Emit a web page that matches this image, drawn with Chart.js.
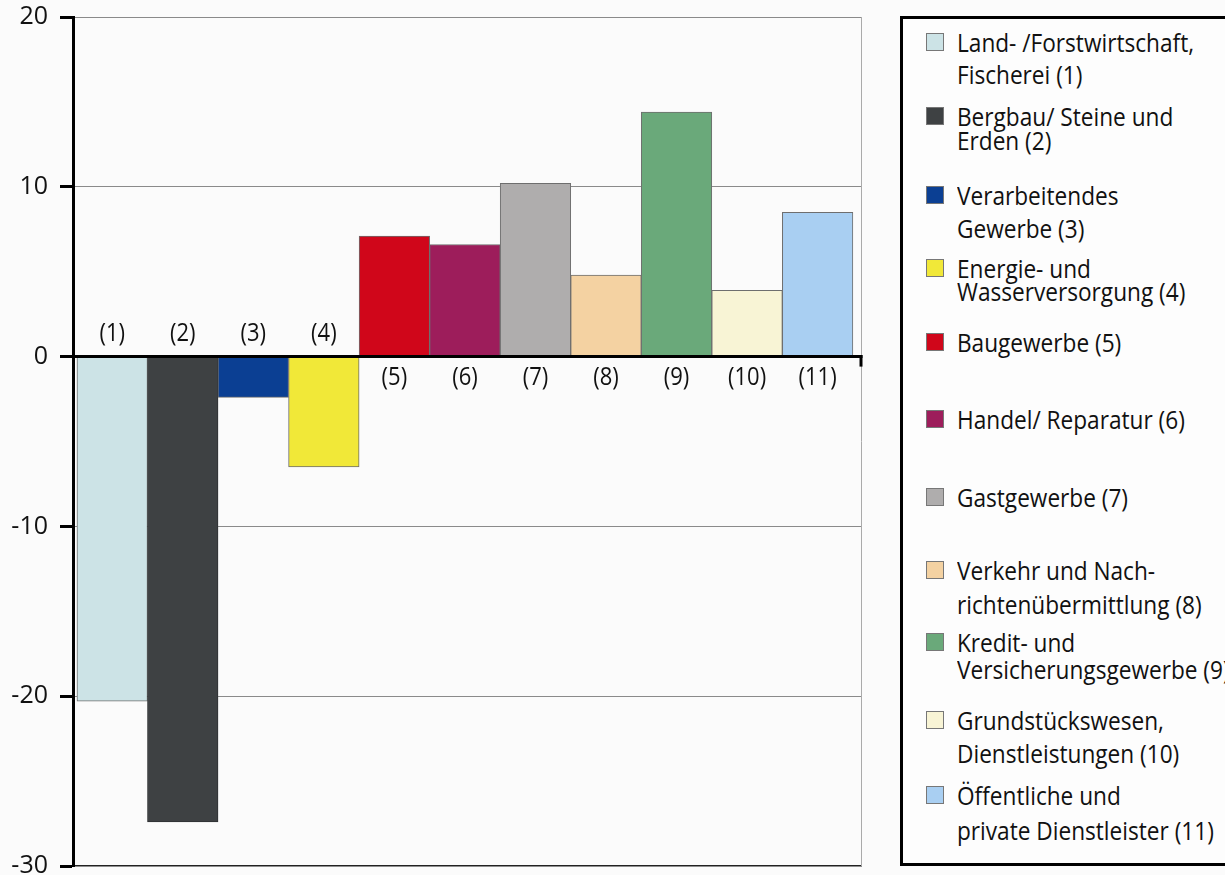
<!DOCTYPE html>
<html>
<head>
<meta charset="utf-8">
<script src="https://cdn.jsdelivr.net/npm/chart.js@4.4.1/dist/chart.umd.min.js"></script>
<style>
  html, body { margin: 0; padding: 0; background: #fbfbfb; overflow: hidden; }
  #wrap { position: relative; width: 1225px; height: 875px; }
  #c { position: absolute; left: 0; top: 0; }
  #legend { position: absolute; left: 900px; top: 16px; width: 400px; height: 850px;
            box-sizing: border-box; border: 3px solid #000; background: #fdfdfd; }
  .sw { position: absolute; width: 18px; height: 18px; box-sizing: border-box; border: 1px solid #777; }
  .ln { position: absolute; font-family: 'Open Sans', sans-serif; font-size: 25px; line-height: 30px;
        height: 30px; color: #111; white-space: nowrap; transform-origin: 0 50%; transform: scaleX(0.905); }
</style>
</head>
<body>
<div id="wrap">
  <canvas id="c" width="1225" height="875"></canvas>
  <div id="legend"></div>
</div>
<script>
// Sectors, numbered as on the axis
const categories = ['(1)', '(2)', '(3)', '(4)', '(5)', '(6)', '(7)', '(8)', '(9)', '(10)', '(11)'];
// Change per sector
const values = [-20.3, -27.4, -2.4, -6.5, 7.1, 6.6, 10.2, 4.8, 14.4, 3.9, 8.5];
const barColors = ['#cce3e6', '#3e4143', '#0b3f93', '#f1e838', '#d0061a', '#9d1d5b',
                   '#afadad', '#f4d2a2', '#6aa97a', '#f8f4d5', '#a9cff2'];
const yTicks = [-30, -20, -10, 0, 10, 20];
const legendLabels = [
  ['Land- /Forstwirtschaft,', 'Fischerei (1)'],
  ['Bergbau/ Steine und', 'Erden (2)'],
  ['Verarbeitendes', 'Gewerbe (3)'],
  ['Energie- und', 'Wasserversorgung (4)'],
  ['Baugewerbe (5)'],
  ['Handel/ Reparatur (6)'],
  ['Gastgewerbe (7)'],
  ['Verkehr und Nach-', 'richtenübermittlung (8)'],
  ['Kredit- und', 'Versicherungsgewerbe (9)'],
  ['Grundstückswesen,', 'Dienstleistungen (10)'],
  ['Öffentliche und', 'private Dienstleister (11)']
];

// Legend layout (page pixels): centre of each entry's first line and gap to its second line
const legendRowY = [42, 116, 195, 268, 342, 419, 497, 570, 642, 720, 795];
const legendLineGap = [32, 24, 33, 23, 0, 0, 0, 34, 27, 33, 35];

(function buildLegend() {
  const box = document.getElementById('legend');
  const ox = 903, oy = 19;
  legendLabels.forEach((lines, i) => {
    const cy = legendRowY[i] - oy;
    const sw = document.createElement('div');
    sw.className = 'sw';
    sw.style.left = (926 - ox) + 'px';
    sw.style.top = (cy - 9) + 'px';
    sw.style.background = barColors[i];
    box.appendChild(sw);
    lines.forEach((t, k) => {
      const d = document.createElement('div');
      d.className = 'ln';
      d.textContent = t;
      d.style.left = (957 - ox) + 'px';
      d.style.top = (cy + k * legendLineGap[i] - 15) + 'px';
      box.appendChild(d);
    });
  });
})();

// Zero line, right frame and bar labels drawn over the bars
const overlay = {
  id: 'overlay',
  afterDatasetsDraw(chart) {
    const { ctx, chartArea, scales } = chart;
    const y0 = scales.y.getPixelForValue(0);
    ctx.save();
    ctx.strokeStyle = '#aaa';
    ctx.lineWidth = 1;
    ctx.beginPath();
    ctx.moveTo(chartArea.right + 0.5, chartArea.top);
    ctx.lineTo(chartArea.right + 0.5, chartArea.bottom);
    ctx.stroke();

    ctx.strokeStyle = '#000';
    ctx.lineWidth = 3;
    ctx.beginPath();
    ctx.moveTo(chartArea.left, y0);
    ctx.lineTo(chartArea.right + 1.5, y0);
    ctx.stroke();
    ctx.beginPath();
    ctx.moveTo(chartArea.right, y0 - 1.5);
    ctx.lineTo(chartArea.right, y0 + 10);
    ctx.stroke();

    ctx.font = '25px "Open Sans", sans-serif';
    ctx.fillStyle = '#111';
    ctx.textAlign = 'center';
    ctx.textBaseline = 'middle';
    const sx = 0.88;
    const meta = chart.getDatasetMeta(0);
    meta.data.forEach((bar, i) => {
      const above = values[i] < 0;
      ctx.save();
      ctx.translate(bar.x, above ? y0 - 23 : y0 + 21);
      ctx.scale(sx, 1);
      ctx.fillText(categories[i], 0, 0);
      ctx.restore();
    });
    ctx.restore();
  }
};

new Chart(document.getElementById('c'), {
  type: 'bar',
  data: {
    datasets: [{
      data: values.map((v, i) => ({ x: i, y: v })),
      backgroundColor: barColors,
      borderColor: barColors.map((c, i) => i === 1 ? '#2e3032' : '#6e6e6e'),
      borderWidth: 1,
      barPercentage: 1,
      categoryPercentage: 1
    }]
  },
  options: {
    responsive: false,
    animation: false,
    events: [],
    layout: { padding: { left: 0, top: 17, right: 364, bottom: 9 } },
    plugins: { legend: { display: false }, tooltip: { enabled: false } },
    scales: {
      x: {
        type: 'linear',
        offset: false,
        min: -0.556,
        max: 10.615,
        ticks: { display: false },
        grid: { display: false },
        border: { display: true, color: '#222', width: 1.5 },
        afterFit(s) { s.height = 0; s.paddingLeft = 0; s.paddingRight = 0; }
      },
      y: {
        min: -30,
        max: 20,
        afterBuildTicks(s) { s.ticks = yTicks.map(v => ({ value: v })); },
        ticks: {
          font: { family: 'Open Sans', size: 25 },
          color: '#111',
          padding: 12
        },
        grid: {
          color: (c) => c.tick && (c.tick.value === 0 || c.tick.value === -30) ? 'rgba(0,0,0,0)' : '#8a8a8a',
          lineWidth: 1,
          drawTicks: true,
          tickLength: 13,
          tickColor: '#000',
          tickWidth: 3
        },
        border: { display: true, color: '#000', width: 3 },
        afterFit(s) { s.width = 73; s.paddingTop = 0; s.paddingBottom = 0; }
      }
    }
  },
  plugins: [overlay]
});
</script>
</body>
</html>
